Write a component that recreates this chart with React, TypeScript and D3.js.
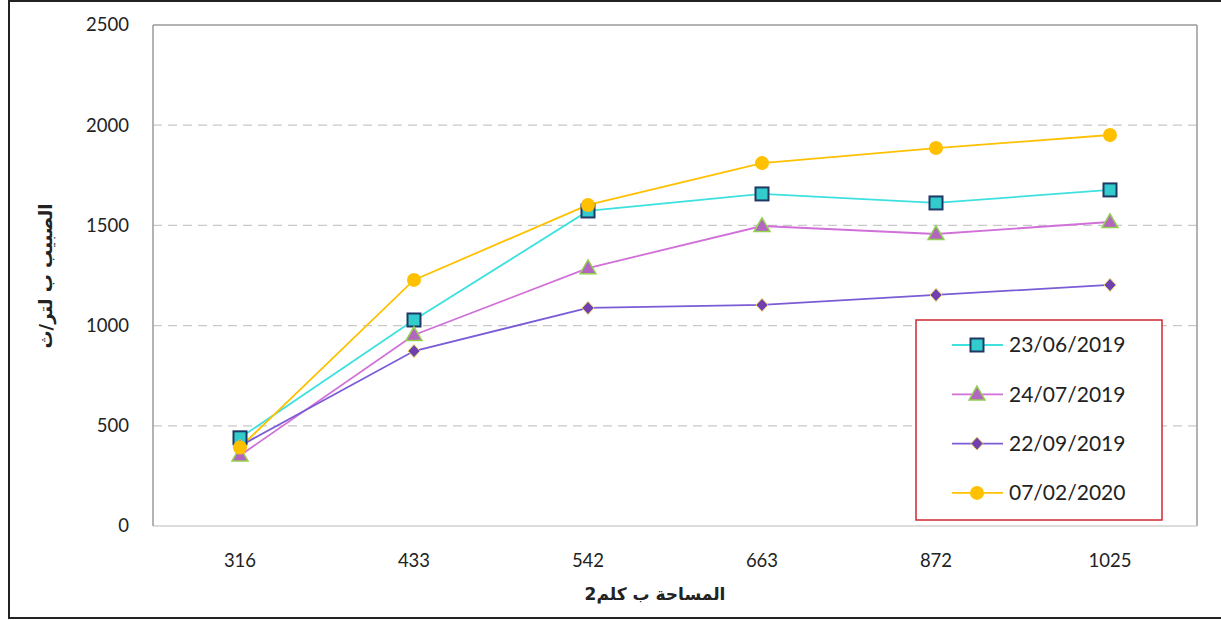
import React from "react";
import * as d3 from "d3";

const categories = ["316", "433", "542", "663", "872", "1025"];
const s1 = [440, 1028, 1572, 1657, 1612, 1677];
const s2 = [352, 953, 1287, 1497, 1457, 1517];
const s3 = [400, 873, 1088, 1103, 1153, 1203];
const s4 = [392, 1228, 1602, 1811, 1886, 1951];
const yTicks = [0, 500, 1000, 1500, 2000, 2500];
const seriesNames = ["23/06/2019", "24/07/2019", "22/09/2019", "07/02/2020"];

const W = 1221, H = 620;
const L = 153, R = 1197, T = 25, B = 526;

const series = [
  { name: seriesNames[0], values: s1, line: "#3FE0E0", fill: "#33CCCC", stroke: "#1F3864", shape: "square" },
  { name: seriesNames[1], values: s2, line: "#D070D8", fill: "#B366BF", stroke: "#92D050", shape: "triangle" },
  { name: seriesNames[2], values: s3, line: "#7B5CD6", fill: "#7040B0", stroke: "#E6D060", shape: "diamond" },
  { name: seriesNames[3], values: s4, line: "#FFC000", fill: "#FFC000", stroke: "#FFC000", shape: "circle" },
];

function Marker({ shape, x, y, fill, stroke }: any) {
  if (shape === "square")
    return <rect x={x - 6.5} y={y - 6.5} width={13} height={13} fill={fill} stroke={stroke} strokeWidth={2} />;
  if (shape === "triangle") {
    const p = d3.symbol(d3.symbolTriangle, 110)();
    return <path d={p!} transform={`translate(${x},${y + 1})`} fill={fill} stroke={stroke} strokeWidth={1.5} />;
  }
  if (shape === "diamond") {
    return <path d={`M${x},${y - 6.5}L${x + 6},${y}L${x},${y + 6.5}L${x - 6},${y}Z`} fill={fill} stroke={stroke} strokeWidth={1} />;
  }
  return <circle cx={x} cy={y} r={7} fill={fill} />;
}

export default function App() {
  const x = d3.scaleBand().domain(categories).range([L, R]);
  const y = d3.scaleLinear().domain([0, 2500]).range([B, T]);
  const cx = (c: string) => (x(c) as number) + x.bandwidth() / 2;
  const line = d3.line<number>().x((_, i) => cx(categories[i])).y((v) => y(v));
  const font = "Lato, 'Open Sans', sans-serif";
  const legX = 916, legY = 320;
  return (
    <svg width={W} height={H} style={{ position: "absolute", left: 0, top: 0, background: "#fff" }} fontFamily={font}>
      <rect x={0} y={0} width={W} height={H} fill="#fff" />
      <rect x={9} y={1} width={W + 10} height={617} fill="none" stroke="#222" strokeWidth={2} />
      {yTicks.filter((t) => t > 0 && t < 2500).map((t) => (
        <line key={t} x1={L} x2={R} y1={y(t)} y2={y(t)} stroke="#c8c8c8" strokeWidth={1.2} strokeDasharray="9,6" />
      ))}
      <line x1={L} x2={R} y1={T} y2={T} stroke="#9a9a9a" strokeWidth={1.5} />
      <line x1={R} x2={R} y1={T} y2={B} stroke="#9a9a9a" strokeWidth={1.5} />
      <line x1={L} x2={R} y1={B} y2={B} stroke="#d0d0d0" strokeWidth={1.5} />
      <line x1={L} x2={L} y1={T} y2={B} stroke="#9a9a9a" strokeWidth={1.5} />
      {yTicks.map((t) => (
        <text key={t} x={129} y={y(t)} dy="0.35em" textAnchor="end" fontSize={18.5} fill="#222">{t}</text>
      ))}
      {categories.map((c) => (
        <text key={c} x={cx(c)} y={561} dy="0.35em" textAnchor="middle" fontSize={18.5} fill="#222">{c}</text>
      ))}
      <text x={655} y={600} textAnchor="middle" fontSize={17} fontWeight="bold" fill="#222" fontFamily="'DejaVu Sans', sans-serif">المساحة ب كلم2</text>
      <text transform="translate(52,276) rotate(-90)" textAnchor="middle" fontSize={18} fontWeight="bold" fill="#222" fontFamily="'DejaVu Sans', sans-serif">الصبيب ب لتر/ث</text>
      {series.map((s) => (
        <path key={s.name} d={line(s.values)!} fill="none" stroke={s.line} strokeWidth={1.8} />
      ))}
      {series.map((s) =>
        s.values.map((v, i) => (
          <Marker key={s.name + i} shape={s.shape} x={cx(categories[i])} y={y(v)} fill={s.fill} stroke={s.stroke} />
        ))
      )}
      <rect x={legX} y={legY} width={246} height={200} fill="#fff" stroke="#D0282E" strokeWidth={1.5} />
      {series.map((s, i) => {
        const ly = 345 + i * 49.3;
        return (
          <g key={s.name}>
            <line x1={952} x2={1003} y1={ly} y2={ly} stroke={s.line} strokeWidth={1.8} />
            <Marker shape={s.shape} x={977} y={ly} fill={s.fill} stroke={s.stroke} />
            <text x={1009} y={ly} dy="0.35em" fontSize={21} fill="#222">{s.name}</text>
          </g>
        );
      })}
    </svg>
  );
}
